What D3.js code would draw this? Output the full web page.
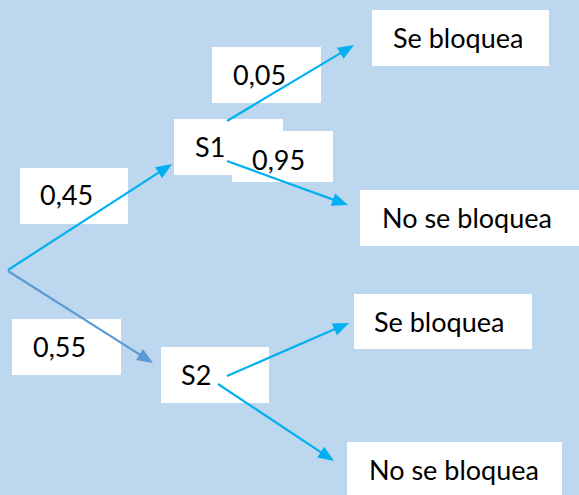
<!DOCTYPE html>
<html>
<head>
<meta charset="utf-8">
<script src="https://cdn.jsdelivr.net/npm/d3@7/dist/d3.min.js"></script>
<style>
  body { margin: 0; background: #BDD7EE; }
  svg { display: block; }
  text { font-family: Lato, "Noto Sans", sans-serif; font-size: 27px; fill: #000; }
</style>
</head>
<body>
<svg width="579" height="495"></svg>
<script>
// tree labels
var labels = ["0,45", "0,05", "S1", "0,95", "Se bloquea", "No se bloquea",
              "0,55", "S2", "Se bloquea", "No se bloquea"];
// first-level probabilities and second-level (given S1) probabilities
var probS = ["0,45", "0,55"];
var probBlock = ["0,05", "0,95"];

// layout (reference pixel coords): box x, y, w, h, text x, baseline
var boxes = [
  [20, 168, 108, 56, 40, 205],
  [212, 47, 109, 56, 233, 85],
  [174, 119, 109, 56, 195, 157],
  [232, 131, 101, 51, 252, 170],
  [372, 10, 177, 56, 393, 48],
  [360, 190, 225, 56, 382, 228],
  [12, 319, 109, 56, 33, 357],
  [161, 347, 108, 56, 181, 385],
  [354, 294, 178, 55, 374, 332],
  [347, 442, 215, 56, 369, 480]
];

// arrows: from, to, colour
var arrows = [
  [[8, 270], [172, 164], "#00B0F0"],
  [[8, 271], [153, 363], "#5B9BD5"],
  [[227, 121], [354, 45], "#00B0F0"],
  [[227, 161], [348, 205], "#00B0F0"],
  [[227, 376], [349, 323], "#00B0F0"],
  [[218, 384], [334, 461], "#00B0F0"]
];

var svg = d3.select("svg"),
    width = +svg.attr("width"),
    height = +svg.attr("height");

var x = d3.scaleLinear().domain([0, 579]).range([0, width]);
var y = d3.scaleLinear().domain([0, 495]).range([0, height]);

svg.append("rect")
  .attr("width", width)
  .attr("height", height)
  .attr("fill", "#BDD7EE");

var g = svg.selectAll("g.box")
  .data(boxes)
  .enter()
  .append("g")
    .attr("class", "box");

g.append("rect")
  .attr("x", function(d){ return x(d[0]) })
  .attr("y", function(d){ return y(d[1]) })
  .attr("width", function(d){ return x(d[2]) - x(0) })
  .attr("height", function(d){ return y(d[3]) - y(0) })
  .attr("fill", "#fff");

g.append("text")
  .attr("x", function(d){ return x(d[4]) })
  .attr("y", function(d){ return y(d[5]) })
  .text(function(d, i){ return labels[i] });

// arrow lines with triangle heads
var head = 16, half = 6.5;
var a = svg.selectAll("g.arrow")
  .data(arrows)
  .enter()
  .append("g")
    .attr("class", "arrow");

a.append("line")
  .attr("x1", function(d){ return x(d[0][0]) })
  .attr("y1", function(d){ return y(d[0][1]) })
  .attr("x2", function(d){
    var dx = d[1][0]-d[0][0], dy = d[1][1]-d[0][1], L = Math.hypot(dx, dy);
    return x(d[1][0] - dx/L*head*0.8) })
  .attr("y2", function(d){
    var dx = d[1][0]-d[0][0], dy = d[1][1]-d[0][1], L = Math.hypot(dx, dy);
    return y(d[1][1] - dy/L*head*0.8) })
  .attr("stroke", function(d){ return d[2] })
  .attr("stroke-width", 2.2);

a.append("path")
  .attr("d", function(d){
    var dx = d[1][0]-d[0][0], dy = d[1][1]-d[0][1], L = Math.hypot(dx, dy);
    var ux = dx/L, uy = dy/L;
    var bx = d[1][0] - ux*head, by = d[1][1] - uy*head;
    return "M" + x(d[1][0]) + "," + y(d[1][1]) +
           "L" + x(bx - uy*half) + "," + y(by + ux*half) +
           "L" + x(bx + uy*half) + "," + y(by - ux*half) + "Z";
  })
  .attr("fill", function(d){ return d[2] });
</script>
</body>
</html>
